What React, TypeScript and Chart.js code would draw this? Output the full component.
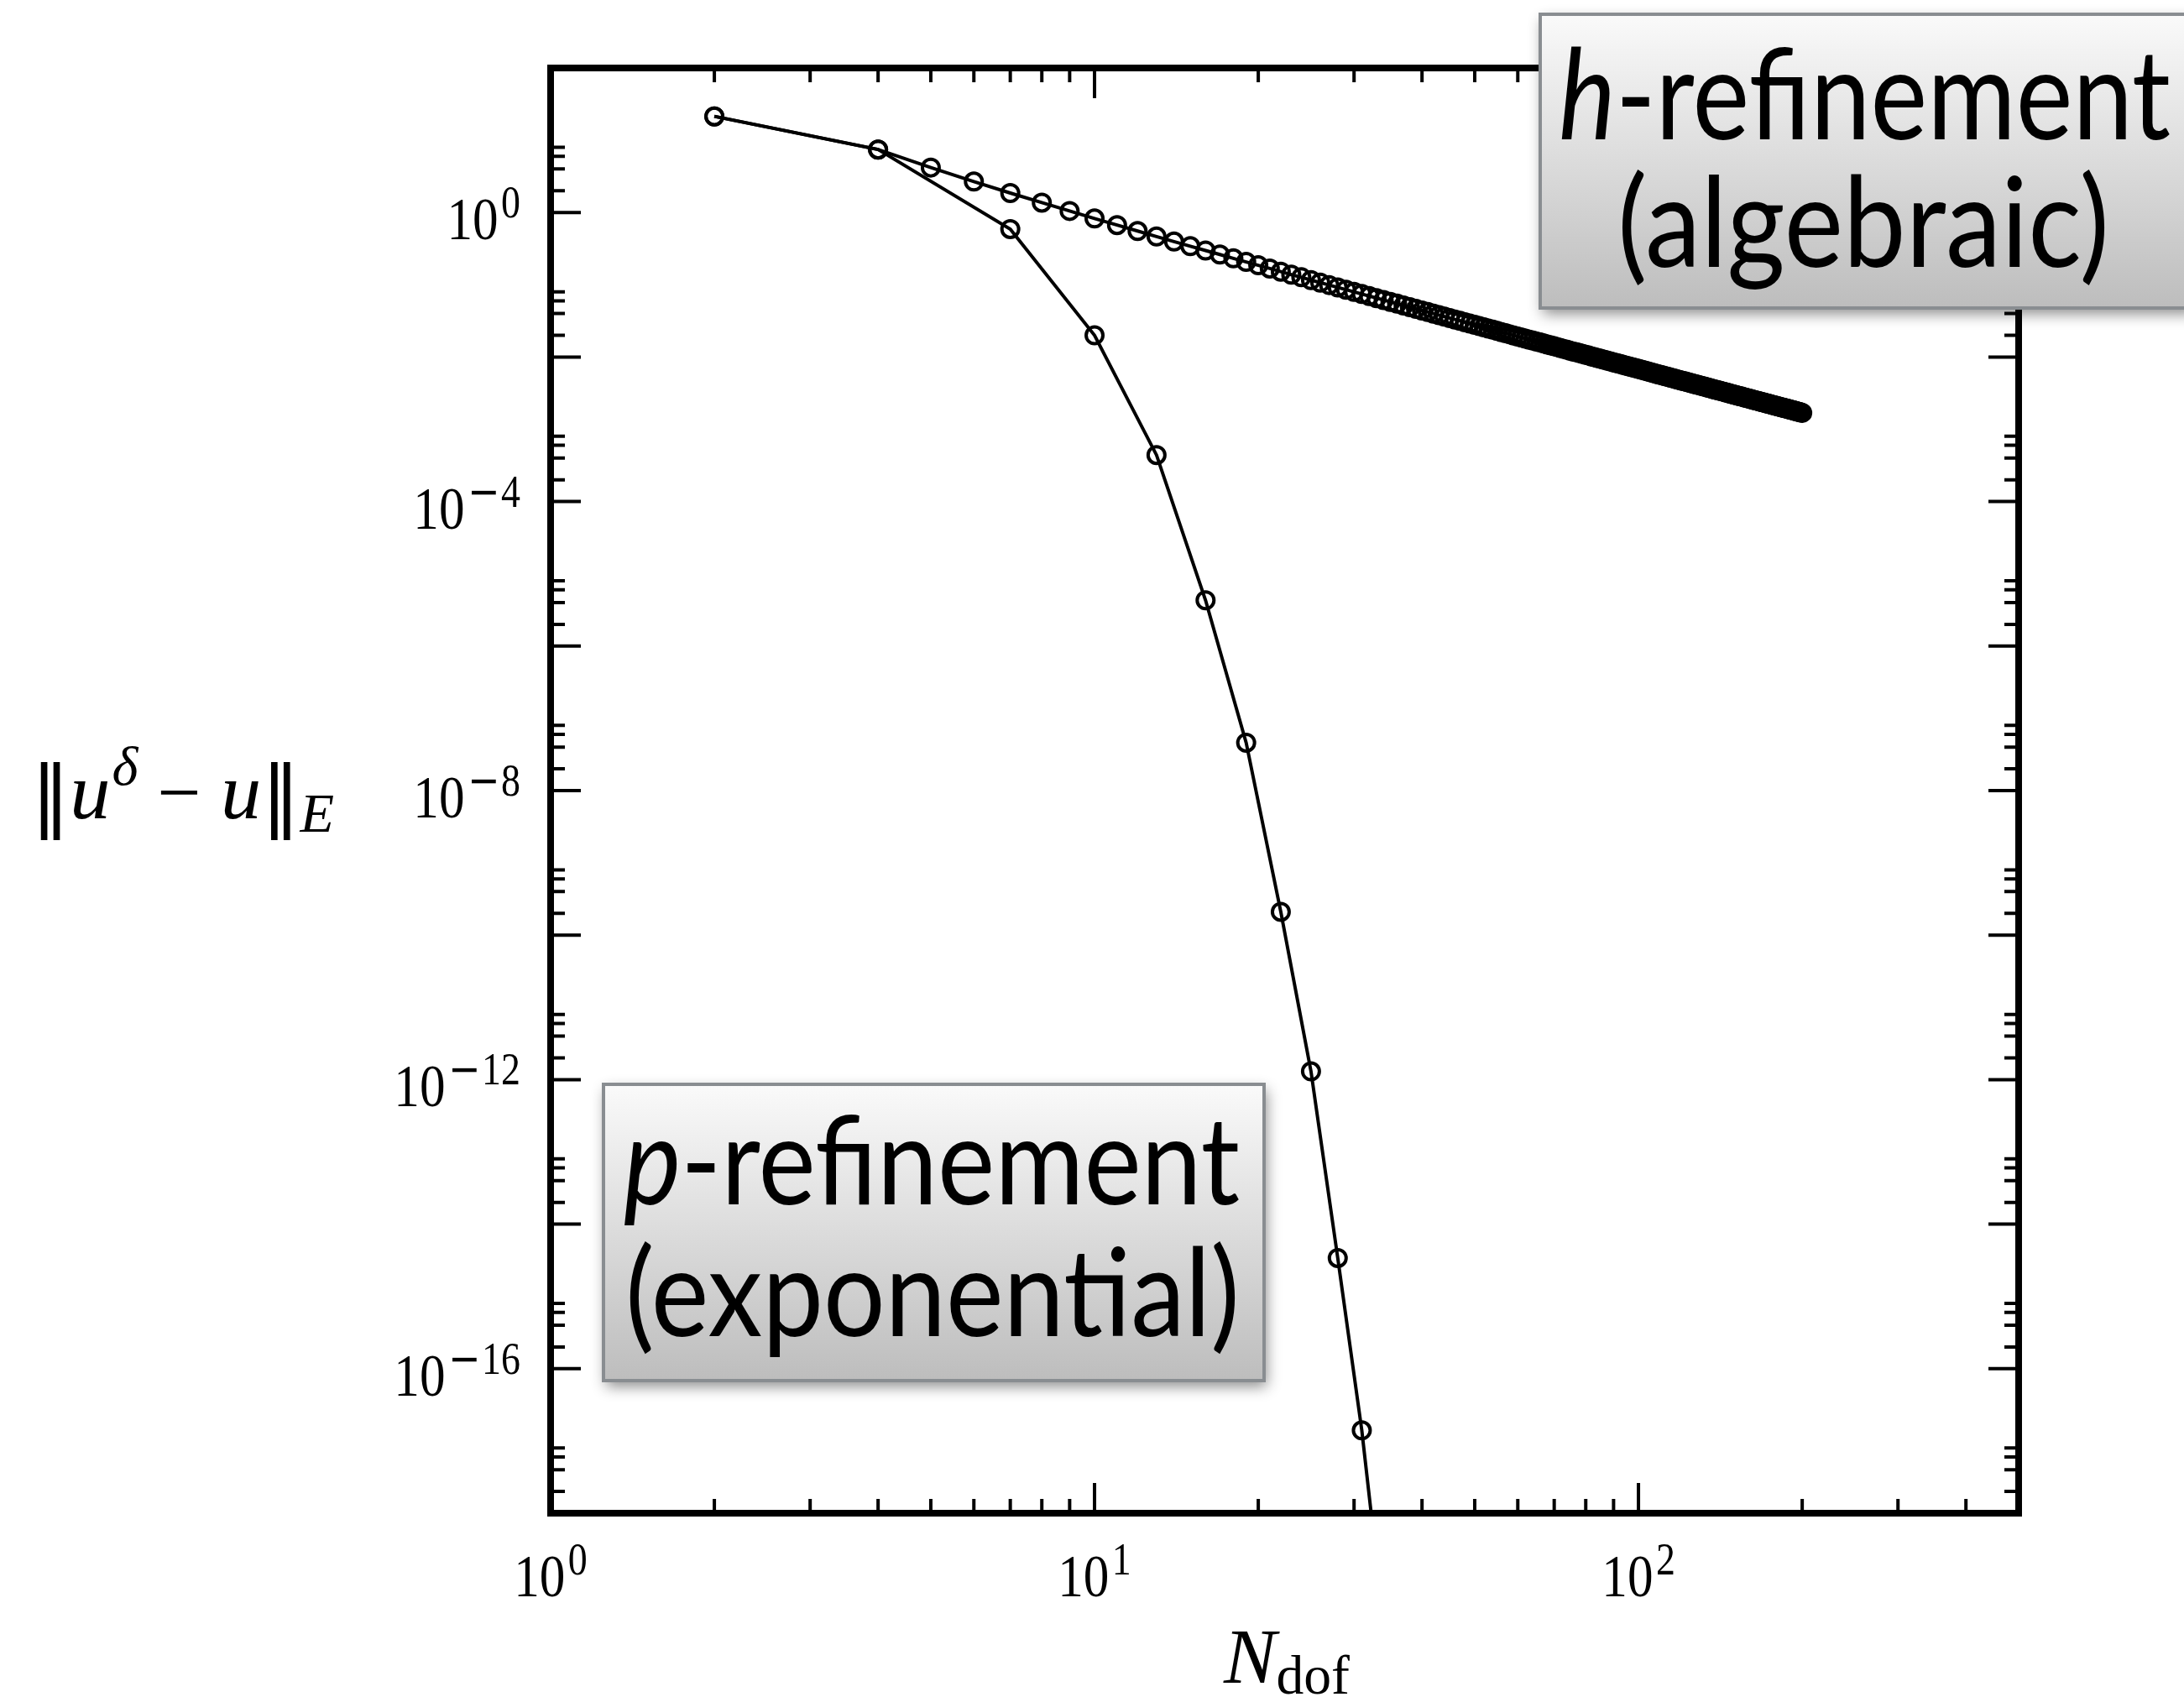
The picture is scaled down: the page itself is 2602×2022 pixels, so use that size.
import React, { useEffect, useRef } from 'react';
import { Chart, registerables } from 'chart.js';

Chart.register(...registerables);

const W = 2602;
const H = 2022;

// p-refinement: degrees of freedom and energy-norm error
const pDofs = [2, 4, 7, 10, 13, 16, 19, 22, 25, 28, 31, 34];
const pErrors = [21.4, 7.44, 0.59, 0.02, 4.4e-4, 4.3e-6, 4.6e-8, 2.1e-10, 1.3e-12, 3.4e-15, 1.4e-17, 3e-20];

// h-refinement: degrees of freedom and energy-norm error
const hDofs = [
  2,
  4, 5, 6, 7, 8, 9, 10, 11, 12, 13, 14, 15, 16, 17, 18, 19, 20, 21, 22, 23,
  24, 25, 26, 27, 28, 29, 30, 31, 32, 33, 34, 35, 36, 37, 38, 39, 40, 41, 42, 43,
  44, 45, 46, 47, 48, 49, 50, 51, 52, 53, 54, 55, 56, 57, 58, 59, 60, 61, 62, 63,
  64, 65, 66, 67, 68, 69, 70, 71, 72, 73, 74, 75, 76, 77, 78, 79, 80, 81, 82, 83,
  84, 85, 86, 87, 88, 89, 90, 91, 92, 93, 94, 95, 96, 97, 98, 99, 100, 101, 102, 103,
  104, 105, 106, 107, 108, 109, 110, 111, 112, 113, 114, 115, 116, 117, 118, 119, 120, 121, 122, 123,
  124, 125, 126, 127, 128, 129, 130, 131, 132, 133, 134, 135, 136, 137, 138, 139, 140, 141, 142, 143,
  144, 145, 146, 147, 148, 149, 150, 151, 152, 153, 154, 155, 156, 157, 158, 159, 160, 161, 162, 163,
  164, 165, 166, 167, 168, 169, 170, 171, 172, 173, 174, 175, 176, 177, 178, 179, 180, 181, 182, 183,
  184, 185, 186, 187, 188, 189, 190, 191, 192, 193, 194, 195, 196, 197, 198, 199, 200,
];
const hErrors = [
  21.4,
  7.44, 4.19, 2.68, 1.86, 1.37, 1.05, 0.827, 0.67, 0.554, 0.465, 0.396, 0.342, 0.298, 0.262, 0.232, 0.207, 0.186, 0.168, 0.152, 0.138,
  0.127, 0.116, 0.107, 0.0991, 0.0919, 0.0855, 0.0797, 0.0744, 0.0697, 0.0654, 0.0615, 0.058, 0.0547, 0.0517, 0.0489, 0.0464, 0.044, 0.0419, 0.0399, 0.038,
  0.0362, 0.0346, 0.0331, 0.0317, 0.0303, 0.0291, 0.0279, 0.0268, 0.0258, 0.0248, 0.0239, 0.023, 0.0221, 0.0214, 0.0206, 0.0199, 0.0192, 0.0186, 0.018, 0.0174,
  0.0169, 0.0164, 0.0159, 0.0154, 0.0149, 0.0145, 0.0141, 0.0137, 0.0133, 0.0129, 0.0126, 0.0122, 0.0119, 0.0116, 0.0113, 0.011, 0.0107, 0.0105, 0.0102, 0.00996,
  0.00973, 0.0095, 0.00927, 0.00906, 0.00885, 0.00865, 0.00846, 0.00827, 0.00809, 0.00792, 0.00775, 0.00758, 0.00742, 0.00727, 0.00712, 0.00698, 0.00684, 0.0067, 0.00657, 0.00644,
  0.00632, 0.0062, 0.00608, 0.00596, 0.00585, 0.00574, 0.00564, 0.00554, 0.00544, 0.00534, 0.00525, 0.00516, 0.00507, 0.00498, 0.00489, 0.00481, 0.00473, 0.00465, 0.00458, 0.0045,
  0.00443, 0.00436, 0.00429, 0.00422, 0.00415, 0.00409, 0.00403, 0.00396, 0.0039, 0.00385, 0.00379, 0.00373, 0.00368, 0.00362, 0.00357, 0.00352, 0.00347, 0.00342, 0.00337, 0.00332,
  0.00328, 0.00323, 0.00319, 0.00314, 0.0031, 0.00306, 0.00302, 0.00298, 0.00294, 0.0029, 0.00286, 0.00283, 0.00279, 0.00275, 0.00272, 0.00268, 0.00265, 0.00262, 0.00258, 0.00255,
  0.00252, 0.00249, 0.00246, 0.00243, 0.0024, 0.00237, 0.00235, 0.00232, 0.00229, 0.00226, 0.00224, 0.00221, 0.00219, 0.00216, 0.00214, 0.00211, 0.00209, 0.00207, 0.00205, 0.00202,
  0.002, 0.00198, 0.00196, 0.00194, 0.00192, 0.0019, 0.00188, 0.00186, 0.00184, 0.00182, 0.0018, 0.00178, 0.00176, 0.00174, 0.00173, 0.00171, 0.00169,
];

// axis ranges and ticks
const xRange = [1, 500];
const yRange = [1e-18, 1e2];
const xMajorDecades = [0, 1, 2];
const xTickLabels = ['0', '1', '2'];
const yMajorDecades = [2, 0, -2, -4, -6, -8, -10, -12, -14, -16, -18];
const yLabelDecades = [0, -4, -8, -12, -16];
const yTickLabels = ['0', '−4', '−8', '−12', '−16'];
const yMinorMultipliers = [2, 4, 6, 8];

// annotation text
const hBoxLines = [['h', '-refinement'], ['(algebraic)']];
const pBoxLines = [['p', '-refinement'], ['(exponential)']];

const SERIF = '"Liberation Serif", "DejaVu Serif", serif';
const SANS = 'Lato, "Open Sans", sans-serif';

type Run = { text: string; font: string; dy?: number; gap?: number };

function runsWidth(ctx: CanvasRenderingContext2D, runs: Run[]) {
  let w = 0;
  for (const r of runs) {
    ctx.font = r.font;
    w += ctx.measureText(r.text).width + (r.gap || 0);
  }
  return w;
}

function drawRuns(
  ctx: CanvasRenderingContext2D,
  runs: Run[],
  x: number,
  y: number,
  align: 'left' | 'center' | 'right',
  sx: number,
) {
  const w = runsWidth(ctx, runs) * sx;
  const x0 = align === 'left' ? x : align === 'center' ? x - w / 2 : x - w;
  ctx.save();
  ctx.translate(x0, y);
  ctx.scale(sx, 1);
  ctx.textAlign = 'left';
  ctx.textBaseline = 'alphabetic';
  let cx = 0;
  for (const r of runs) {
    ctx.font = r.font;
    ctx.fillText(r.text, cx, r.dy || 0);
    cx += ctx.measureText(r.text).width + (r.gap || 0);
  }
  ctx.restore();
}

function drawRunsFit(ctx: CanvasRenderingContext2D, runs: Run[], x0: number, x1: number, y: number) {
  const sx = (x1 - x0) / runsWidth(ctx, runs);
  drawRuns(ctx, runs, x0, y, 'left', sx);
}

function powerLabel(exp: string): Run[] {
  const runs: Run[] = [{ text: '10', font: `72px ${SERIF}`, gap: 4 }];
  if (exp.startsWith('−')) {
    runs.push({ text: '−', font: `54px "DejaVu Sans", sans-serif`, dy: -26, gap: 2 });
    runs.push({ text: exp.slice(1), font: `54px ${SERIF}`, dy: -26 });
  } else {
    runs.push({ text: exp, font: `54px ${SERIF}`, dy: -26 });
  }
  return runs;
}

function drawBox(
  ctx: CanvasRenderingContext2D,
  x0: number,
  y0: number,
  x1: number,
  y1: number,
  lines: string[][],
  size: number,
  baselines: number[],
  spans: number[][],
) {
  ctx.save();
  ctx.shadowColor = 'rgba(0,0,0,0.45)';
  ctx.shadowBlur = 16;
  ctx.shadowOffsetX = 3;
  ctx.shadowOffsetY = 7;
  const g = ctx.createLinearGradient(0, y0, 0, y1);
  g.addColorStop(0, '#fafafa');
  g.addColorStop(1, '#bdbdbd');
  ctx.fillStyle = g;
  ctx.fillRect(x0, y0, x1 - x0, y1 - y0);
  ctx.restore();
  ctx.save();
  ctx.strokeStyle = '#898d91';
  ctx.lineWidth = 4;
  ctx.strokeRect(x0, y0, x1 - x0, y1 - y0);
  ctx.fillStyle = '#000';
  lines.forEach((parts, i) => {
    const runs: Run[] =
      parts.length === 2
        ? [
            { text: parts[0], font: `italic ${size}px ${SANS}` },
            { text: parts[1], font: `${size}px ${SANS}` },
          ]
        : [{ text: parts[0], font: `${size}px ${SANS}` }];
    drawRunsFit(ctx, runs, spans[i][0], spans[i][1], baselines[i]);
  });
  ctx.restore();
}

const framePlugin = {
  id: 'frame',
  afterDatasetsDraw(chart: any) {
    const { ctx, chartArea: a } = chart;
    const xs = chart.scales.x;
    const ys = chart.scales.y;
    ctx.save();
    ctx.strokeStyle = '#000';
    ctx.lineCap = 'butt';
    ctx.lineWidth = 4;

    const MAJOR = 36;
    const MINOR = 17;
    const vTick = (px: number, len: number) => {
      ctx.beginPath();
      ctx.moveTo(px, a.bottom);
      ctx.lineTo(px, a.bottom - len);
      ctx.moveTo(px, a.top);
      ctx.lineTo(px, a.top + len);
      ctx.stroke();
    };
    const hTick = (py: number, len: number) => {
      ctx.beginPath();
      ctx.moveTo(a.left, py);
      ctx.lineTo(a.left + len, py);
      ctx.moveTo(a.right, py);
      ctx.lineTo(a.right - len, py);
      ctx.stroke();
    };

    for (const d of xMajorDecades) {
      vTick(xs.getPixelForValue(Math.pow(10, d)), MAJOR);
      for (let m = 2; m <= 9; m++) {
        const v = m * Math.pow(10, d);
        if (v < xRange[1]) vTick(xs.getPixelForValue(v), MINOR);
      }
    }
    for (const d of yMajorDecades) {
      hTick(ys.getPixelForValue(Math.pow(10, d)), MAJOR);
      if (d <= 0) {
        for (const m of yMinorMultipliers) hTick(ys.getPixelForValue(m * Math.pow(10, d)), MINOR);
      }
    }

    // axes frame
    ctx.lineWidth = 8;
    ctx.lineJoin = 'miter';
    ctx.strokeRect(a.left, a.top, a.right - a.left, a.bottom - a.top);

    // tick labels
    ctx.fillStyle = '#000';
    xMajorDecades.forEach((d, i) => {
      drawRuns(ctx, powerLabel(xTickLabels[i]), xs.getPixelForValue(Math.pow(10, d)), a.bottom + 99, 'center', 0.85);
    });
    yLabelDecades.forEach((d, i) => {
      drawRuns(ctx, powerLabel(yTickLabels[i]), a.left - 36, ys.getPixelForValue(Math.pow(10, d)) + 32, 'right', 0.85);
    });

    // axis labels
    drawRunsFit(
      ctx,
      [
        { text: 'N', font: `italic 94px ${SERIF}` },
        { text: 'dof', font: `66px ${SERIF}`, dy: 13 },
      ],
      1458,
      1608,
      2005,
    );
    drawRunsFit(
      ctx,
      [
        { text: '‖', font: `92px "DejaVu Sans", sans-serif`, dy: 4 },
        { text: 'u', font: `italic 96px ${SERIF}`, gap: 2 },
        { text: 'δ', font: `italic 66px ${SERIF}`, dy: -40 },
        { text: ' − ', font: `92px ${SERIF}` },
        { text: 'u', font: `italic 96px ${SERIF}` },
        { text: '‖', font: `92px "DejaVu Sans", sans-serif`, dy: 4 },
        { text: 'E', font: `italic 66px ${SERIF}`, dy: 16 },
      ],
      37,
      398,
      975,
    );

    // annotations
    drawBox(ctx, 1835, 17, 2612, 367, hBoxLines, 150, [166, 318], [[1857, 2586], [1927, 2513]]);
    drawBox(ctx, 719, 1292, 1506, 1645, pBoxLines, 146, [1435, 1592], [[743, 1477], [745, 1477]]);

    ctx.restore();
  },
};

export default function App() {
  const ref = useRef<HTMLCanvasElement | null>(null);

  useEffect(() => {
    document.body.style.margin = '0';
    document.body.style.overflow = 'hidden';
    const canvas = ref.current;
    if (!canvas) return;
    const series = (xs: number[], ys: number[]) => xs.map((x, i) => ({ x, y: ys[i] }));
    const common = {
      borderColor: '#000',
      borderWidth: 4,
      pointStyle: 'circle',
      pointRadius: 10,
      pointBorderWidth: 4,
      pointBorderColor: '#000',
      pointBackgroundColor: 'rgba(0,0,0,0)',
      tension: 0,
      fill: false,
    };
    const chart = new Chart(canvas, {
      type: 'line',
      data: {
        datasets: [
          { label: 'h-refinement', data: series(hDofs, hErrors), ...common },
          { label: 'p-refinement', data: series(pDofs, pErrors), ...common },
        ],
      },
      options: {
        responsive: false,
        devicePixelRatio: 1,
        animation: false,
        layout: { padding: { left: 656, right: W - 2405, top: 81, bottom: H - 1803 } },
        plugins: { legend: { display: false }, tooltip: { enabled: false } },
        scales: {
          x: { type: 'logarithmic', min: xRange[0], max: xRange[1], display: false },
          y: { type: 'logarithmic', min: yRange[0], max: yRange[1], display: false },
        },
      } as any,
      plugins: [framePlugin],
    });
    return () => chart.destroy();
  }, []);

  return <canvas ref={ref} width={W} height={H} style={{ display: 'block', background: '#fff' }} />;
}
